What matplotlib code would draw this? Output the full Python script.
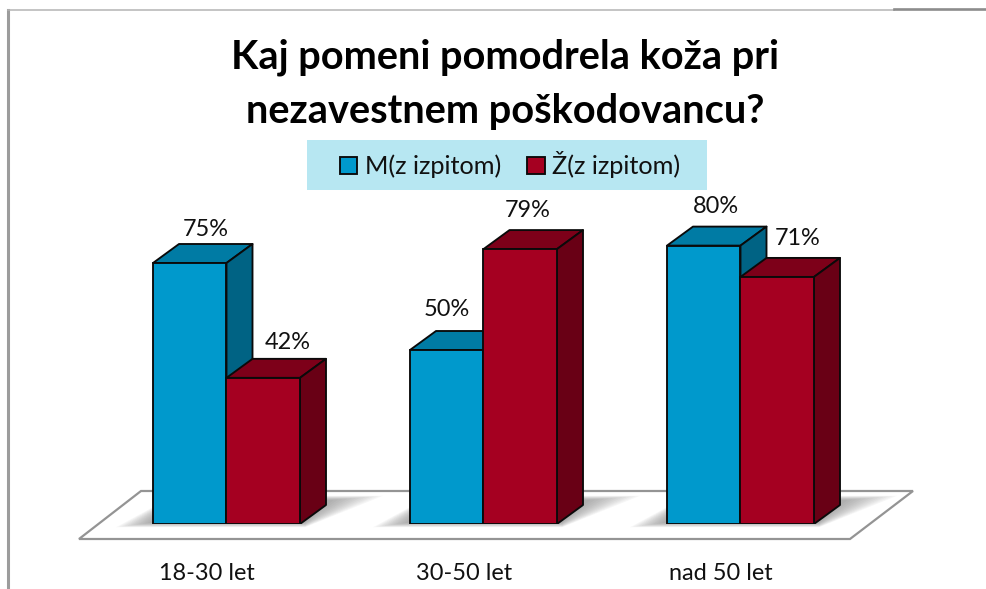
import matplotlib
matplotlib.use("Agg")
import matplotlib.pyplot as plt
from matplotlib.patches import Polygon, Rectangle
from matplotlib.lines import Line2D

categories = ["18-30 let", "30-50 let", "nad 50 let"]
men = [75, 50, 80]
women = [42, 79, 71]
series_names = ["M(z izpitom)", "Ž(z izpitom)"]
title_lines = ["Kaj pomeni pomodrela koža pri", "nezavestnem poškodovancu?"]

W, H = 987, 589
BASE_PX = 524
PX_PER_PCT = 3.48
PX_PER_CAT = 257
X0_PX = 226.5

plt.rcParams['font.family'] = ['Lato', 'DejaVu Sans']
fig = plt.figure(figsize=(W / 100, H / 100), dpi=100, facecolor="white")
ax = fig.add_axes([0, (H - BASE_PX) / H, 1, BASE_PX / H])
ax.set_xlim(-X0_PX / PX_PER_CAT, (W - X0_PX) / PX_PER_CAT)
ax.set_ylim(0, BASE_PX / PX_PER_PCT)
for s in ax.spines.values():
    s.set_visible(False)
ax.set_yticks([])
ax.set_xticks([i - 0.075 for i in range(len(categories))])
ax.set_xticklabels(categories, fontsize=16.9, color="#111111")
ax.tick_params(axis="x", length=0, pad=28)
ax.patch.set_alpha(0)


def px(x):
    return (x - X0_PX) / PX_PER_CAT


def py(y):
    return (BASE_PX - y) / PX_PER_PCT


# outer chart frame
ax.add_line(Line2D([px(8), px(8)], [py(10), py(589)], color="#9c9c9c", lw=2.2, clip_on=False))
ax.add_line(Line2D([px(8), px(894)], [py(10.3), py(10.3)], color="#b4b4b4", lw=1.1, clip_on=False))
ax.add_line(Line2D([px(894), px(987)], [py(9.3), py(9.3)], color="#8c8c8c", lw=1.9, clip_on=False))

# floor
floor = [(79, 539), (141, 491), (913, 491), (850, 539)]
ax.add_patch(Polygon([(px(a), py(b)) for a, b in floor], closed=True, fc="white",
                     ec="#949494", lw=1.6, clip_on=False, zorder=1))

BAR_W = 73.5 / PX_PER_CAT
DX = 26 / PX_PER_CAT
DY = 19 / PX_PER_PCT
BLUE = ("#0099cc", "#007ba4", "#006384")
RED = ("#a50021", "#7d0019", "#690015")
EDGE = "#0a0a0a"
EDGE_LW = 1.35

# soft shadow on the floor behind each bar pair
for i in range(len(categories)):
    for k in range(12):
        g = 3.2 * k
        ax.add_patch(Polygon(
            [(i - BAR_W - 0.02 - g / PX_PER_CAT * 0.9, py(523 + 0.12 * g)),
             (i - BAR_W + DX * 0.8, py(500 - g * 0.12)),
             (i + BAR_W + DX + 0.03 + g / PX_PER_CAT * 1.4, py(500 - g * 0.12)),
             (i + BAR_W + 0.02, py(523 + 0.12 * g))],
            closed=True, fc="#686868", ec="none", alpha=0.055, zorder=1.2, clip_on=False))


def draw_bar(i, value, offset, cols, z, label):
    left = i + offset
    ax.bar(left, value, width=BAR_W, align="edge", color=cols[0], edgecolor=EDGE,
           linewidth=EDGE_LW, zorder=z + 0.2, label=label)
    right = left + BAR_W
    ax.add_patch(Polygon([(left, value), (left + DX, value + DY), (right + DX, value + DY), (right, value)],
                         closed=True, fc=cols[1], ec=EDGE, lw=EDGE_LW, zorder=z, joinstyle="round"))
    ax.add_patch(Polygon([(right, 0), (right + DX, DY), (right + DX, value + DY), (right, value)],
                         closed=True, fc=cols[2], ec=EDGE, lw=EDGE_LW, zorder=z, joinstyle="round"))


for i in range(len(categories)):
    draw_bar(i, men[i], -BAR_W, BLUE, 2, series_names[0] if i == 0 else None)
    draw_bar(i, women[i], 0, RED, 3, series_names[1] if i == 0 else None)

# value labels (hand-placed in the original chart)
men_label_offsets = [(16, 34), (0, 41), (12, 39)]
women_label_offsets = [(24, 35), (7, 39), (20, 38)]
for i in range(len(categories)):
    for v, x_c, (ox, oy) in ((men[i], i - BAR_W / 2, men_label_offsets[i]),
                             (women[i], i + BAR_W / 2, women_label_offsets[i])):
        ax.annotate(f"{v}%", (x_c, v), xytext=(ox * 0.72, oy * 0.72), textcoords="offset points",
                    ha="center", va="center", fontsize=16.9, color="#111111", zorder=6)

# title
for line, y_px in zip(title_lines, (57, 112)):
    ax.text(px(505), py(y_px), line, ha="center", va="center", fontsize=28.6,
            fontweight="bold", color="black", zorder=6)

# legend
ax.add_patch(Rectangle((px(307), py(190)), 400 / PX_PER_CAT, 50 / PX_PER_PCT, fc="#b7e7f2", ec="none", zorder=5))
leg = ax.legend(loc="center", bbox_to_anchor=(px(510), py(165)), bbox_transform=ax.transData,
                ncol=2, frameon=False, fontsize=18.2, handlelength=0.68, handleheight=0.68,
                handletextpad=0.3, columnspacing=1.05, labelcolor="#111111")
leg.set_zorder(6)

fig.savefig("out.png", dpi=100, facecolor="white")
